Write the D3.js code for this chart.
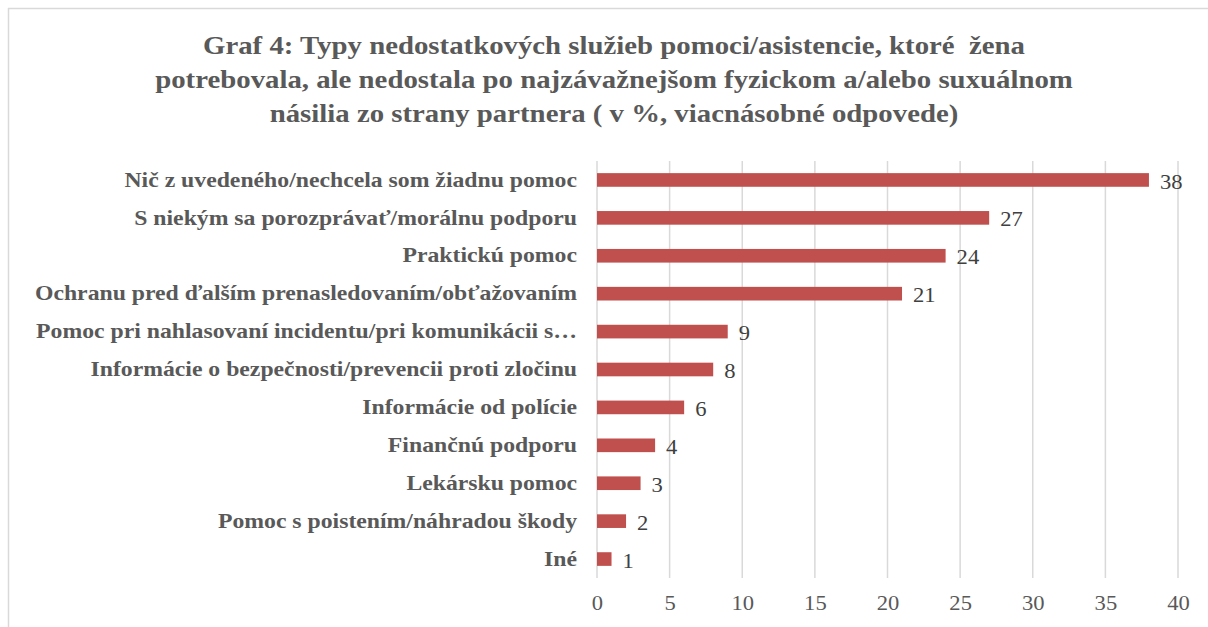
<!DOCTYPE html>
<html>
<head>
<meta charset="utf-8">
<script src="https://cdn.jsdelivr.net/npm/d3@7"></script>
<style>
  body { margin: 0; background: #fff; }
  svg { display: block; }
</style>
</head>
<body>
<svg id="chart" width="1208" height="627"></svg>
<script>
'use strict';

var categories = [
    'Nič z uvedeného/nechcela som žiadnu pomoc',
    'S niekým sa porozprávať/morálnu podporu',
    'Praktickú pomoc',
    'Ochranu pred ďalším prenasledovaním/obťažovaním',
    'Pomoc pri nahlasovaní incidentu/pri komunikácii s…',
    'Informácie o bezpečnosti/prevencii proti zločinu',
    'Informácie od polície',
    'Finančnú podporu',
    'Lekársku pomoc',
    'Pomoc s poistením/náhradou škody',
    'Iné'
]
var values = [38, 27, 24, 21, 9, 8, 6, 4, 3, 2, 1]
var xTicks = [0, 5, 10, 15, 20, 25, 30, 35, 40]
var titleLines = [
    'Graf 4: Typy nedostatkových služieb pomoci/asistencie, ktoré  žena',
    'potrebovala, ale nedostala po najzávažnejšom fyzickom a/alebo suxuálnom',
    'násilia zo strany partnera ( v %, viacnásobné odpovede)'
]

var svg = d3.select('#chart')
var serif = '"Liberation Serif", "Times New Roman", serif'
// obrazok je trochu roztiahnuty do sirky
var stretch = 1.13

// ramik okolo grafu
svg.append('rect')
    .attr('x', 8.5).attr('y', 8.5)
    .attr('width', 1220).attr('height', 640)
    .attr('fill', 'none')
    .attr('stroke', '#d9d9d9')
    .attr('stroke-width', 1.5)

svg.append('g').selectAll('text')
    .data(titleLines)
    .join('text')
    .attr('transform', function(d, i) { return 'translate(614,' + (54 + i * 34) + ') scale(' + stretch + ',1)' })
    .attr('text-anchor', 'middle')
    .style('font-family', serif)
    .style('font-weight', 'bold')
    .style('font-size', '25.5px')
    .style('fill', '#595959')
    .style('white-space', 'pre')
    .text(function(d) { return d })

var x = d3.scaleLinear().domain([0, 40]).range([597, 1178])
var y = d3.scaleBand().domain(categories).range([161, 578]).paddingInner(0.64).paddingOuter(0.32)

// mriezka
svg.append('g').selectAll('line')
    .data(xTicks)
    .join('line')
    .attr('x1', function(d) { return x(d) })
    .attr('x2', function(d) { return x(d) })
    .attr('y1', 161)
    .attr('y2', 578)
    .style('stroke', '#d9d9d9')
    .style('stroke-width', 1.5)

var xAxis = svg.append('g')
    .attr('transform', 'translate(0,578)')
    .call(d3.axisBottom(x).tickValues(xTicks).tickSize(0).tickPadding(18))
xAxis.select('.domain').remove()
xAxis.selectAll('text')
    .attr('transform', 'scale(' + stretch + ',1)')
    .style('font-family', serif)
    .style('font-size', '20px')
    .style('fill', '#595959')

svg.append('g').selectAll('rect')
    .data(values)
    .join('rect')
    .attr('x', x(0))
    .attr('y', function(d, i) { return y(categories[i]) })
    .attr('width', function(d) { return x(d) - x(0) })
    .attr('height', y.bandwidth())
    .style('fill', '#c0504d')

svg.append('g').selectAll('text')
    .data(values)
    .join('text')
    .attr('transform', function(d, i) {
        return 'translate(' + (x(d) + 11) + ',' + (y(categories[i]) + y.bandwidth() / 2 + 1) + ') scale(' + stretch + ',1)'
    })
    .attr('dy', '0.38em')
    .style('font-family', serif)
    .style('font-size', '20px')
    .style('fill', '#404040')
    .text(function(d) { return d })

var yAxis = svg.append('g')
    .attr('transform', 'translate(' + x(0) + ',0)')
    .call(d3.axisLeft(y).tickSize(0).tickPadding(20 / stretch))
yAxis.select('.domain').remove()
yAxis.selectAll('text')
    .attr('transform', 'scale(' + stretch + ',1)')
    .style('font-family', serif)
    .style('font-weight', 'bold')
    .style('font-size', '21px')
    .style('fill', '#595959')
</script>
</body>
</html>
